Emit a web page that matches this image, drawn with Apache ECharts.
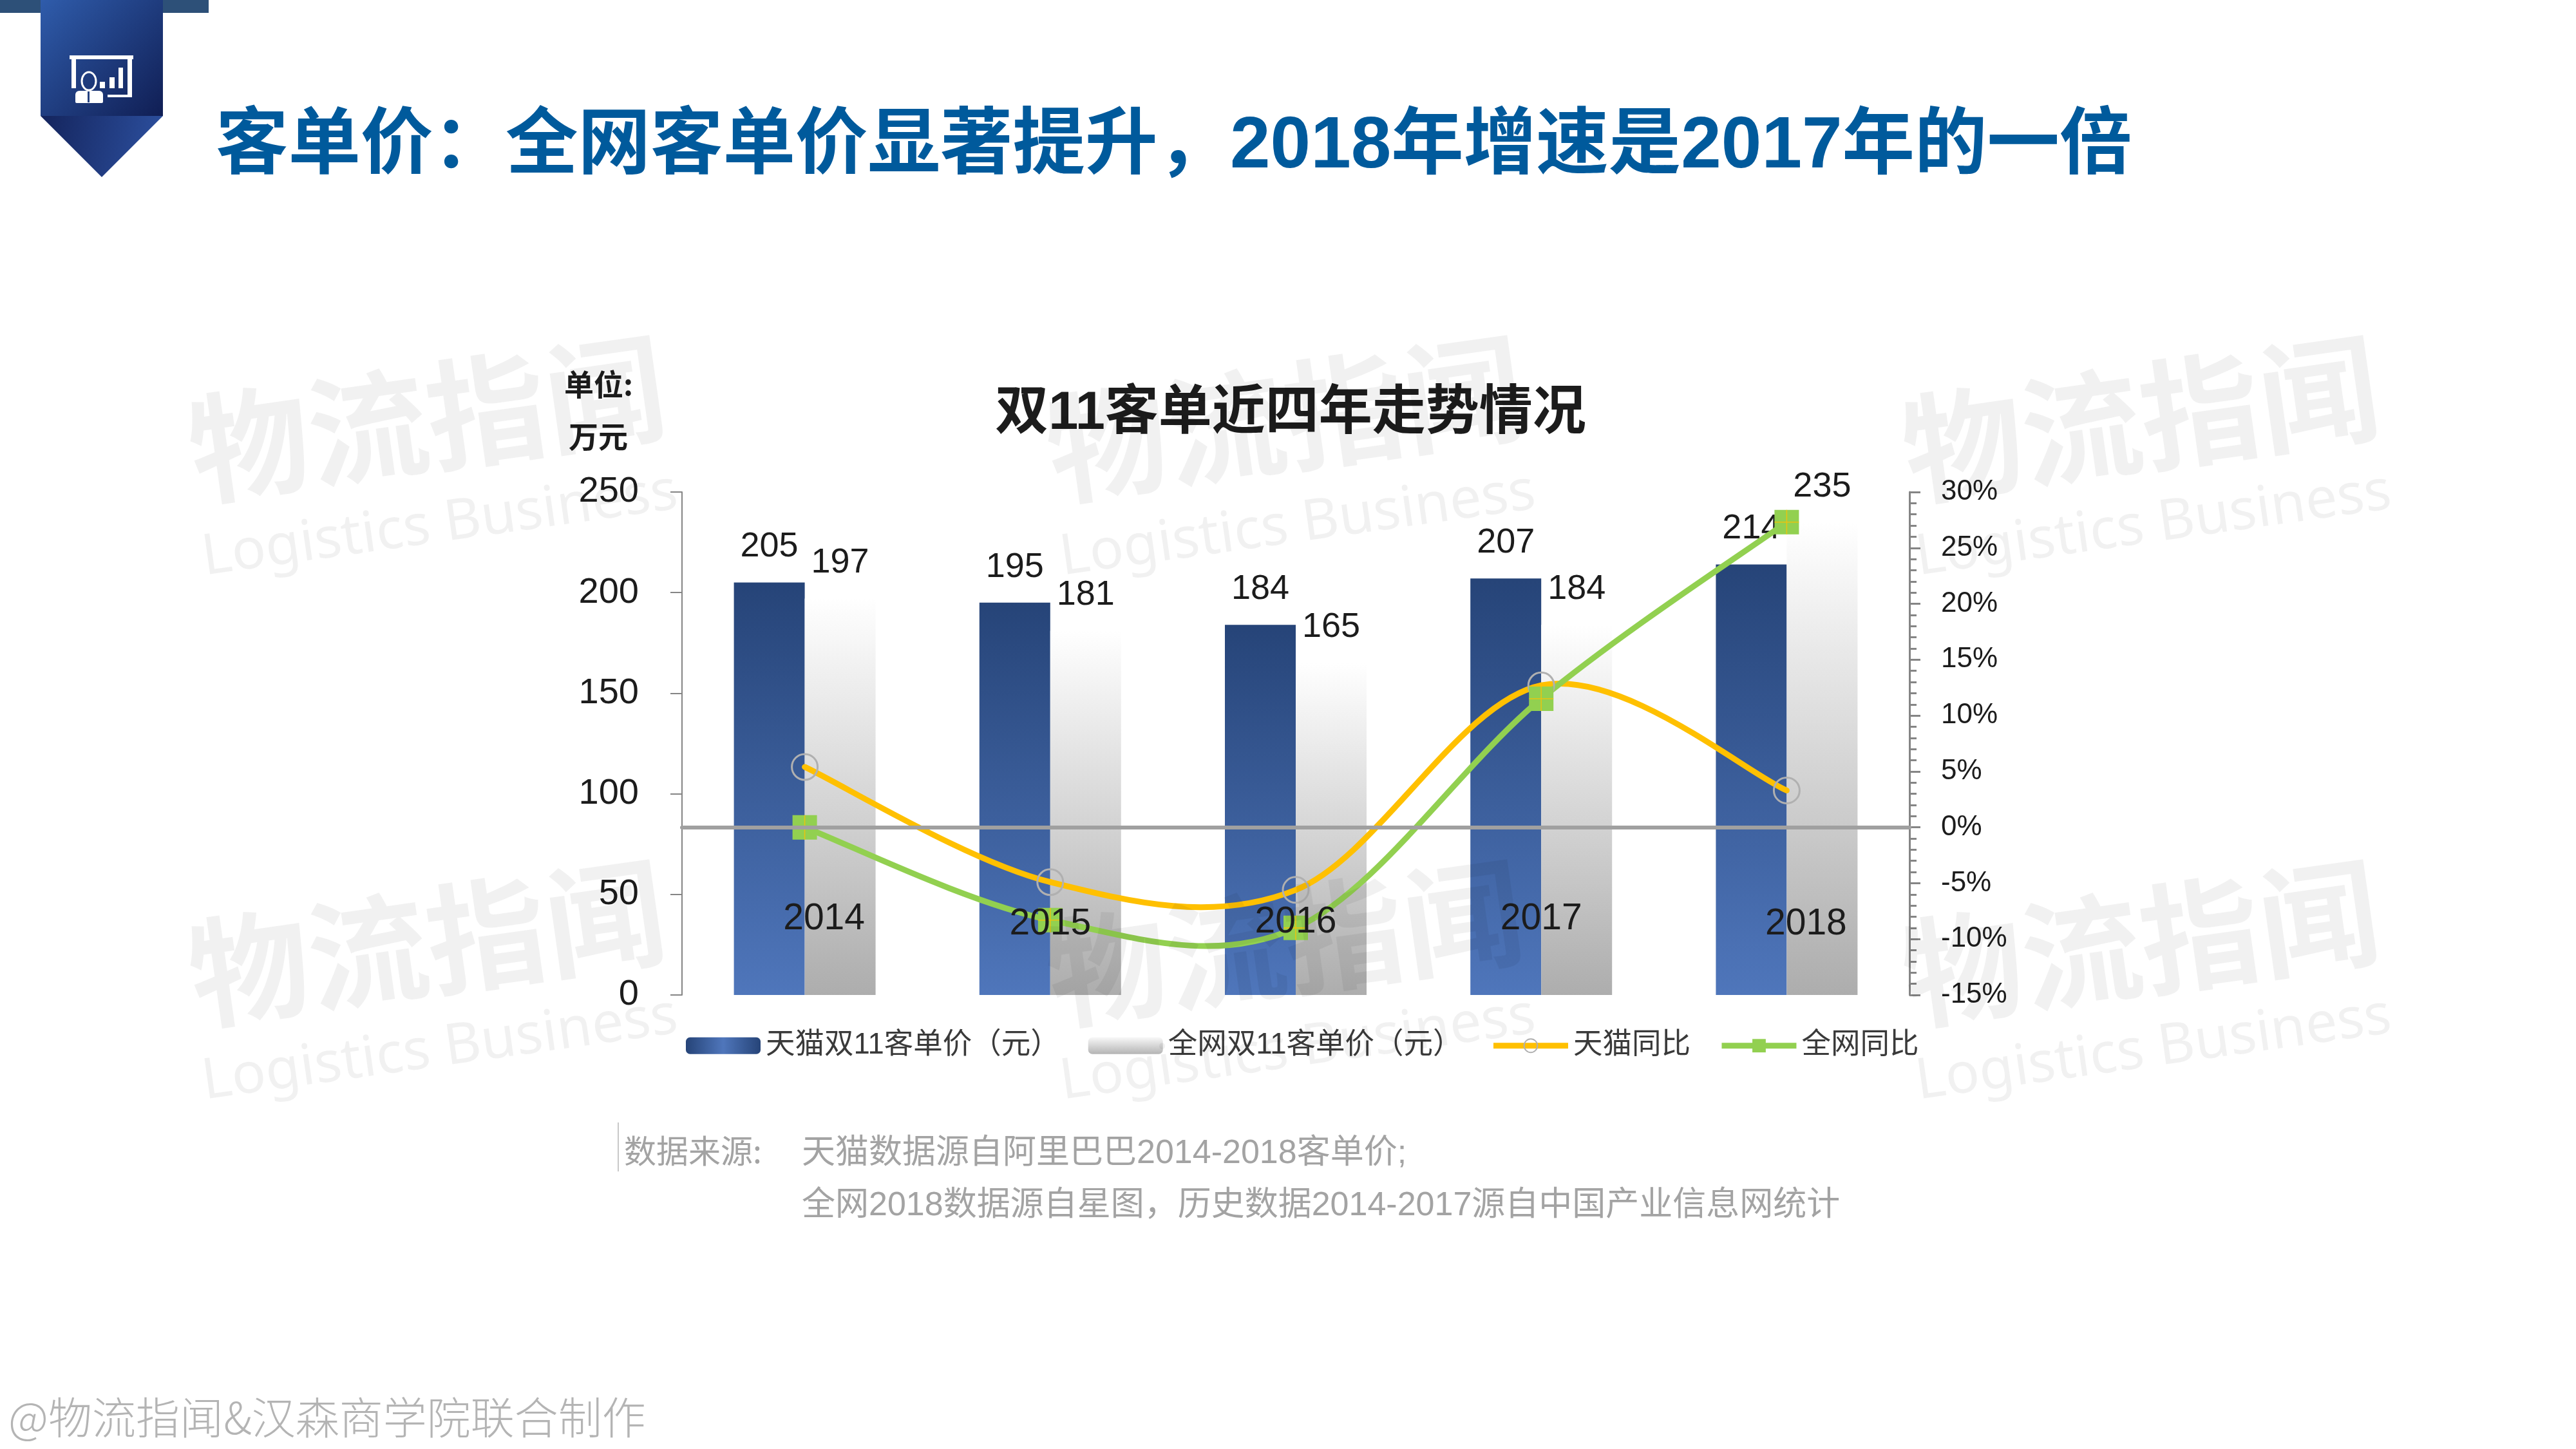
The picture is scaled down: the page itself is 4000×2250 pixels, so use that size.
<!DOCTYPE html>
<html>
<head>
<meta charset="utf-8">
<style>
  html, body { margin: 0; padding: 0; background: #fff; }
  #chart { width: 4000px; height: 2250px; }
</style>
<script src="https://cdn.jsdelivr.net/npm/echarts@6/dist/echarts.min.js"></script>
</head>
<body>
<div id="chart"></div>
<script>
// 数据
var categories = ['2014', '2015', '2016', '2017', '2018'];
var tmallPrice = [205, 195, 184, 207, 214];
var wholePrice = [197, 181, 165, 184, 235];
var tmallYoy = [5.4, -4.9, -5.6, 12.7, 3.3];
var wholeYoy = [0, -8.3, -9, 11.5, 27.3];
var leftTicks = { min: 0, max: 250, interval: 50 };
var rightTicks = { min: -15, max: 30, interval: 5 };

var FONT = '"Liberation Sans", "Noto Sans CJK SC", sans-serif';
var CJK = '"Noto Sans CJK SC", sans-serif';
var INK = '#1c1c1c';
var AXIS_GREY = '#858585';
var YELLOW = '#ffc000';
var GREEN = '#92d050';

function vGrad(top, bottom) {
    return new echarts.graphic.LinearGradient(0, 0, 0, 1, [
        { offset: 0, color: top },
        { offset: 1, color: bottom }
    ]);
}

// 水印
function watermark(cx, cy) {
    return [
        {
            type: 'text', x: cx, y: cy, rotation: 0.14, z: 50, silent: true,
            style: {
                text: '物流指闻', font: '700 186px ' + CJK,
                fill: 'rgba(0,0,0,0.055)', align: 'center', verticalAlign: 'middle'
            }
        },
        {
            type: 'text', x: cx + 20, y: cy + 166, rotation: 0.14, z: 50, silent: true,
            style: {
                text: 'Logistics Business', font: '400 88px "Noto Sans", sans-serif',
                fill: 'rgba(0,0,0,0.055)', align: 'center', verticalAlign: 'middle'
            }
        }
    ];
}

// 左上角图标
var banner = [
    { type: 'rect', shape: { x: 0, y: 0, width: 324, height: 20 }, style: { fill: '#2d5078' } },
    {
        type: 'polygon', shape: { points: [[63, 0], [253, 0], [253, 180], [63, 180]] }, z: 2,
        style: {
            fill: new echarts.graphic.LinearGradient(0, 0, 1, 1, [
                { offset: 0, color: '#2f5cab' }, { offset: 1, color: '#101e54' }
            ])
        }
    },
    {
        type: 'polygon', shape: { points: [[63, 180], [253, 180], [158, 275]] }, z: 2,
        style: {
            fill: new echarts.graphic.LinearGradient(0, 0, 1, 0.4, [
                { offset: 0, color: '#14245c' }, { offset: 1, color: '#2c4f9e' }
            ])
        }
    },
    { type: 'rect', z: 3, shape: { x: 108, y: 86, width: 99, height: 6 }, style: { fill: '#fff' } },
    { type: 'rect', z: 3, shape: { x: 111, y: 92, width: 7, height: 45 }, style: { fill: '#fff' } },
    { type: 'rect', z: 3, shape: { x: 198, y: 92, width: 7, height: 59 }, style: { fill: '#fff' } },
    { type: 'rect', z: 3, shape: { x: 167, y: 147, width: 38, height: 4 }, style: { fill: '#fff' } },
    { type: 'rect', z: 3, shape: { x: 155, y: 127, width: 8, height: 10 }, style: { fill: '#fff' } },
    { type: 'rect', z: 3, shape: { x: 170, y: 120, width: 8, height: 17 }, style: { fill: '#fff' } },
    { type: 'rect', z: 3, shape: { x: 184, y: 105, width: 7, height: 32 }, style: { fill: '#fff' } },
    { type: 'ellipse', z: 3, shape: { cx: 138, cy: 126, rx: 11, ry: 14 }, style: { fill: 'none', stroke: '#fff', lineWidth: 3 } },
    { type: 'rect', z: 3, shape: { x: 117, y: 141, width: 43, height: 19, r: [6, 6, 2, 2] }, style: { fill: '#fff' } },
    { type: 'rect', z: 3, shape: { x: 136, y: 142, width: 3, height: 17 }, style: { fill: '#23407f' } }
];

// 数据来源
var notes = [
    { type: 'rect', shape: { x: 959, y: 1743, width: 2, height: 76 }, style: { fill: '#c8c8c8' } },
    { type: 'text', x: 969, y: 1787, style: { text: '数据来源:', font: '400 50px ' + CJK, fill: '#a3a3a3', verticalAlign: 'middle' } },
    { type: 'text', x: 1245, y: 1792, style: { text: '天猫数据源自阿里巴巴2014-2018客单价;', font: '400 52px ' + FONT, fill: '#a3a3a3', verticalAlign: 'middle' } },
    { type: 'text', x: 1245, y: 1873, style: { text: '全网2018数据源自星图，历史数据2014-2017源自中国产业信息网统计', font: '400 52px ' + FONT, fill: '#a3a3a3', verticalAlign: 'middle' } },
    { type: 'text', x: 13, y: 2201, style: { text: '@物流指闻&汉森商学院联合制作', font: '300 68px ' + CJK, fill: '#b4b4b4', verticalAlign: 'middle' } },
    { type: 'text', x: 876, y: 597, style: { text: '单位:', font: '700 46px ' + CJK, fill: INK, verticalAlign: 'middle' } },
    { type: 'text', x: 883, y: 678, style: { text: '万元', font: '700 46px ' + CJK, fill: INK, verticalAlign: 'middle' } }
];

var graphicItems = banner.concat(notes)
    .concat(watermark(663, 650), watermark(1995, 650), watermark(3324, 650))
    .concat(watermark(663, 1464), watermark(1995, 1464), watermark(3324, 1464));

var barLabel = {
    show: true, position: 'top', distance: 28,
    fontFamily: FONT, fontSize: 54, color: INK
};

// 同比曲线：每段一条贝塞尔，切线取相邻两点（与 Excel 平滑线一致，可越过端点）
function smoothCurve(values, color) {
    return function (params, api) {
        var i = params.dataIndex;
        if (i >= values.length - 1) {
            return { type: 'group', children: [] };
        }
        var pt = function (k) {
            var idx = Math.max(0, Math.min(values.length - 1, k));
            return api.coord([idx, values[idx]]);
        };
        var p0 = pt(i - 1), p1 = pt(i), p2 = pt(i + 1), p3 = pt(i + 2);
        return {
            type: 'bezierCurve',
            shape: {
                x1: p1[0], y1: p1[1],
                x2: p2[0], y2: p2[1],
                cpx1: p1[0] + (p2[0] - p0[0]) / 6,
                cpy1: p1[1] + (p2[1] - p0[1]) / 6,
                cpx2: p2[0] - (p3[0] - p1[0]) / 6,
                cpy2: p2[1] - (p3[1] - p1[1]) / 6
            },
            style: { fill: null, stroke: color, lineWidth: 9, lineCap: 'round' },
            silent: true
        };
    };
}

var option = {
    animation: false,
    backgroundColor: '#fff',
    textStyle: { fontFamily: FONT },
    title: [
        {
            text: '客单价：全网客单价显著提升，2018年增速是2017年的一倍',
            left: 330, top: 155,
            textStyle: { fontFamily: FONT, fontSize: 112.5, fontWeight: 'bold', color: '#005a9c', lineHeight: 138 }
        },
        {
            text: '双11客单近四年走势情况',
            left: 1999, top: 590, textAlign: 'center',
            textStyle: { fontFamily: FONT, fontSize: 83, fontWeight: 'bold', color: INK, lineHeight: 96 }
        }
    ],
    legend: {
        left: 1060, top: 1596,
        itemWidth: 116, itemHeight: 26, itemGap: 44,
        textStyle: { fontFamily: FONT, fontSize: 45.5, color: '#3a3a3a', padding: [0, 0, 0, 3] },
        data: [
            {
                name: '天猫双11客单价（元）',
                itemStyle: {
                    color: new echarts.graphic.LinearGradient(0, 0, 1, 0, [
                        { offset: 0, color: '#264478' },
                        { offset: 0.5, color: '#4f76bb' },
                        { offset: 1, color: '#264478' }
                    ])
                }
            },
            { name: '全网双11客单价（元）', itemStyle: { color: vGrad('#f8f8f8', '#b4b4b4') } },
            { name: '天猫同比', lineStyle: { color: YELLOW, width: 9, opacity: 1 } },
            { name: '全网同比', lineStyle: { color: GREEN, width: 9, opacity: 1 } }
        ]
    },
    grid: { left: 1059, top: 764, width: 1906, height: 781 },
    xAxis: {
        type: 'category',
        data: categories,
        z: 7,
        // 轴线落在右轴 0% 的位置
        axisLine: {
            onZero: true, onZeroAxisIndex: 1,
            lineStyle: { color: '#a0a0a0', width: 6 }
        },
        axisTick: { show: false },
        axisLabel: {
            interval: 0, margin: -146,
            formatter: function (value, index) {
                return '{y' + index + '|' + value + '}';
            },
            rich: {
                y0: { fontFamily: FONT, fontSize: 57, color: INK, padding: [0, 0, 0, 60] },
                y1: { fontFamily: FONT, fontSize: 57, color: INK, padding: [8, 0, 0, 0] },
                y2: { fontFamily: FONT, fontSize: 57, color: INK, padding: [5, 0, 0, 0] },
                y3: { fontFamily: FONT, fontSize: 57, color: INK },
                y4: { fontFamily: FONT, fontSize: 57, color: INK, padding: [8, 0, 0, 60] }
            }
        }
    },
    yAxis: [
        {
            type: 'value',
            min: leftTicks.min, max: leftTicks.max, interval: leftTicks.interval,
            axisLine: { show: true, lineStyle: { color: AXIS_GREY, width: 2 } },
            axisTick: { show: true, length: 18, lineStyle: { color: AXIS_GREY, width: 2 } },
            axisLabel: { margin: 67, fontSize: 56, color: INK, fontFamily: FONT, padding: [12, 0, 0, 0] },
            splitLine: { show: false }
        },
        {
            type: 'value',
            position: 'right',
            min: rightTicks.min, max: rightTicks.max, interval: rightTicks.interval,
            axisLine: { show: true, lineStyle: { color: AXIS_GREY, width: 3 } },
            axisTick: { show: true, length: 17, lineStyle: { color: AXIS_GREY, width: 3 } },
            minorTick: { show: true, splitNumber: 5, length: 11, lineStyle: { color: AXIS_GREY, width: 3 } },
            axisLabel: { margin: 49, fontSize: 44, color: INK, fontFamily: FONT, padding: [10, 0, 0, 0], formatter: '{value}%' },
            splitLine: { show: false }
        }
    ],
    series: [
        {
            name: '天猫双11客单价（元）',
            type: 'bar',
            z: 1,
            barWidth: 110,
            barGap: 0,
            data: tmallPrice,
            itemStyle: { color: vGrad('#264478', '#4f76bb') },
            label: barLabel
        },
        {
            name: '全网双11客单价（元）',
            type: 'bar',
            z: 1,
            barWidth: 110,
            data: wholePrice,
            itemStyle: { color: vGrad('#ffffff', '#adadad') },
            label: barLabel
        },
        {
            name: '天猫同比曲线',
            type: 'custom',
            yAxisIndex: 1,
            z: 4,
            data: tmallYoy.map(function (v, i) { return [i, v]; }),
            encode: { x: 0, y: 1 },
            renderItem: smoothCurve(tmallYoy, YELLOW)
        },
        {
            name: '全网同比曲线',
            type: 'custom',
            yAxisIndex: 1,
            z: 4,
            data: wholeYoy.map(function (v, i) { return [i, v]; }),
            encode: { x: 0, y: 1 },
            renderItem: smoothCurve(wholeYoy, GREEN)
        },
        {
            name: '天猫同比',
            type: 'line',
            yAxisIndex: 1,
            z: 5,
            data: tmallYoy,
            symbol: 'circle',
            symbolSize: 40,
            lineStyle: { opacity: 0 },
            itemStyle: { color: 'rgba(255,255,255,0)', borderColor: '#b0b0b0', borderWidth: 3 }
        },
        {
            name: '全网同比',
            type: 'line',
            yAxisIndex: 1,
            z: 5,
            data: wholeYoy,
            symbol: 'rect',
            symbolSize: 38,
            lineStyle: { opacity: 0 },
            itemStyle: { color: GREEN }
        },
        {
            // 方块上的十字
            name: '全网同比十字',
            type: 'scatter',
            yAxisIndex: 1,
            z: 6,
            silent: true,
            data: wholeYoy,
            symbol: 'path://M9.6 0h.8v9.6H20v.8h-9.6V20h-.8v-9.6H0v-.8h9.6z',
            symbolSize: 38,
            itemStyle: { color: YELLOW }
        }
    ],
    graphic: graphicItems
};

var myChart = echarts.init(document.getElementById('chart'));
myChart.setOption(option);
</script>
</body>
</html>
